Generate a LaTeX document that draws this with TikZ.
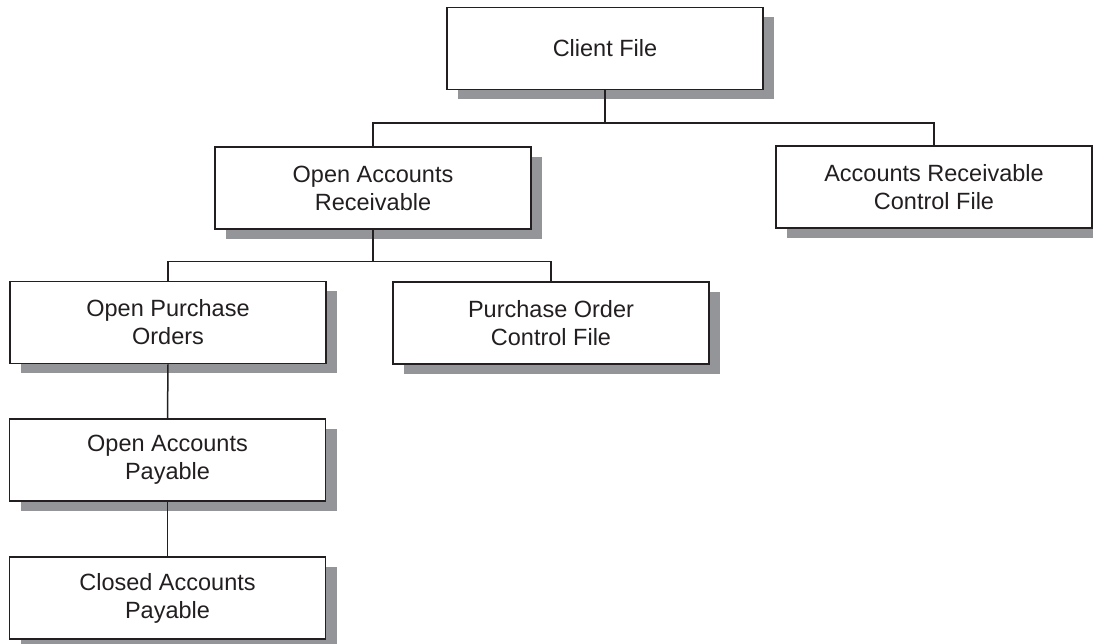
\documentclass[tikz,border=0pt]{standalone}
\usepackage{fontspec}
\setmainfont{Liberation Sans}
\usetikzlibrary{shadows}
\definecolor{shadowgray}{RGB}{147,149,152}
\definecolor{inkc}{RGB}{35,31,32}
\tikzset{
  filebox/.style={draw=inkc, line width=1.8pt, fill=white, minimum width=316pt, minimum height=82pt,
    align=center, inner sep=0pt, text=inkc,
    font=\fontsize{23.5pt}{28pt}\selectfont,
    drop shadow={shadow xshift=11pt, shadow yshift=-10pt, fill=shadowgray, opacity=1}},
  link/.style={draw=inkc, line width=1.5pt}
}
\begin{document}
\begin{tikzpicture}[x=1pt,y=-1pt]
\useasboundingbox (0,0) rectangle (1093,644);
\node[filebox] (cf)  at (605,48.5) {Client File};
\node[filebox] (oar) at (373,188) {Open Accounts\\Receivable};
\node[filebox] (arc) at (934,187) {Accounts Receivable\\Control File};
\node[filebox] (opo) at (168,322.5) {Open Purchase\\Orders};
\node[filebox] (poc) at (551,323) {Purchase Order\\Control File};
\node[filebox] (oap) at (167.5,460) {Open Accounts\\Payable};
\node[filebox] (cap) at (167.5,598) {Closed Accounts\\Payable};
\coordinate (j1) at (605,123);
\coordinate (j2) at (373,261.5);
\draw[link] (cf.south) -- (j1);
\draw[link] (oar.north) |- (j1) -| (arc.north);
\draw[link] (oar.south) -- (j2);
\draw[link] (opo.north) |- (j2) -| (poc.north);
\draw[link] (opo.south) -- (oap.north);
\draw[link] (oap.south) -- (cap.north);
\end{tikzpicture}
\end{document}
